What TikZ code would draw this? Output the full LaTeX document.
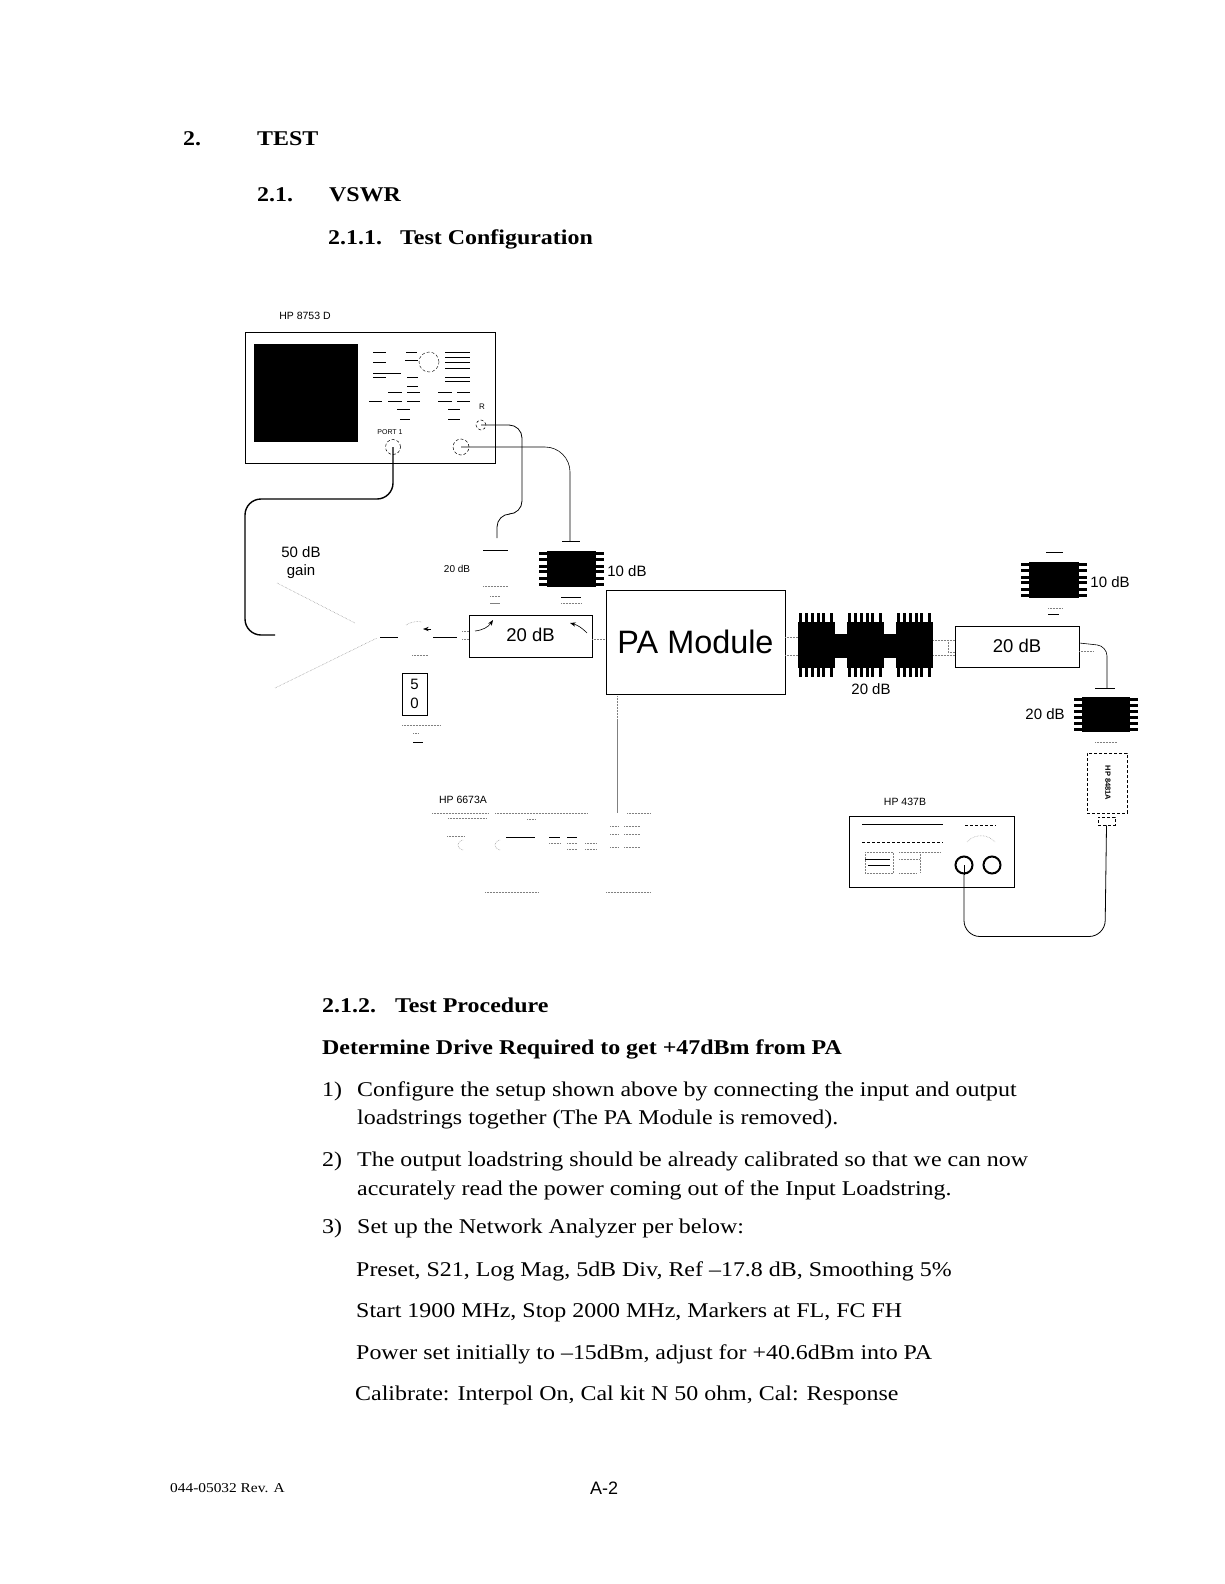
\documentclass[tikz,border=0pt]{standalone}
\usepackage{fontspec}
\setmainfont[FakeStretch=1.14]{Liberation Serif}
\setsansfont{Liberation Sans}
\usetikzlibrary{arrows.meta,calc}
\newcommand{\fs}[1]{\fontsize{#1}{#1}\selectfont}
\newcommand{\sidepins}[1]{%
  \foreach \k in {.08,.25,.42,.58,.75,.92} {
    \draw[pin] ($(#1.north west)!\k!(#1.south west)$) -- ++(-8,0);
    \draw[pin] ($(#1.north east)!\k!(#1.south east)$) -- ++(8,0);
  }}
\newcommand{\toppins}[1]{%
  \foreach \k in {.06,.22,.38,.54,.7,.9} {
    \draw[pin] ($(#1.north west)!\k!(#1.north east)$) -- ++(0,-9);
    \draw[pin] ($(#1.south west)!\k!(#1.south east)$) -- ++(0,9);
  }}
\begin{document}
\begin{tikzpicture}[x=1pt,y=-1pt,
    title/.style={anchor=base west, inner sep=0pt, font=\fs{21}\bfseries},
    body/.style={anchor=base west, inner sep=0pt, font=\fs{21}},
    instr/.style={rectangle, draw, inner sep=0pt, line width=.8pt},
    label/.style={inner sep=0pt, font=\sffamily\fs{15}},
    tiny/.style={inner sep=0pt, font=\sffamily\fs{10.5}},
    chip/.style={rectangle, fill=black, inner sep=0pt},
    pin/.style={line width=3pt},
    port/.style={circle, draw, densely dashed, inner sep=0pt, line width=.5pt},
    cable/.style={line width=.8pt, rounded corners=16pt},
    faint/.style={densely dotted, line width=.5pt, gray},
    key/.style={line width=.7pt},
    arr/.style={-{Stealth}, line width=.6pt}]
  \useasboundingbox (0,0) rectangle (1224,1584);
  % page headings
  \node[title] (sec) at (183,146) {2.};
  \node[title] (sectest) at (257,146) {TEST};
  \node[title] (sub) at (257,201) {2.1.};
  \node[title] (subvswr) at (329,201) {VSWR};
  \node[title] (conf) at (328,244) {2.1.1.};
  \node[title] (conftext) at (400,244) {Test Configuration};
  % network analyzer
  \node[instr, minimum width=250, minimum height=131] (vna) at (370,397.5) {};
  \node[tiny] (vnaname) at (305,316) {HP 8753 D};
  \node[chip, minimum width=104, minimum height=98] (screen) at (306,393) {};
  \node[circle, draw, densely dashed, minimum size=20, inner sep=0pt] (knob) at (429,362) {};
  \foreach \xa/\xb/\yy in {373/386/352, 373/386/362, 373/401/373, 373/386/377,
      406/417/352, 405/418/360, 445/470/352, 445/470/357, 445/470/362, 445/470/368, 445/470/377, 445/470/381,
      407/418/377, 407/418/386, 388/402/392, 407/420/392, 438/452/392, 457/470/392,
      369/382/401, 388/402/401, 407/420/401, 438/452/401, 457/470/401,
      397/410/409, 400/410/419, 448/460/409, 448/460/419}
    \draw[key] (\xa,\yy) -- (\xb,\yy);
  \node[tiny, font=\sffamily\fs{7}] (portone) at (390,432) {PORT 1};
  \node[tiny, font=\sffamily\fs{8}] (portrname) at (482,407) {R};
  \node[port, minimum size=15] (pone) at (393,447) {};
  \node[port, minimum size=10] (pr) at (481,425) {};
  \node[port, minimum size=16] (pt) at (461,447) {};
  % amplifier and input loadstring
  \node[label] (gain) at (301,552) {50 dB};
  \node[label] (gaintwo) at (301,572) {gain};
  \coordinate (ampin) at (275,635);
  \coordinate (ampa) at (277,583);
  \coordinate (ampb) at (355,623);
  \coordinate (ampc) at (275,688);
  \coordinate (ampd) at (377,638);
  \coordinate (ampout) at (380,637);
  \coordinate (cplin) at (398,637);
  \coordinate (cplout) at (433,637);
  \draw[faint] (ampa) -- (ampb);
  \draw[faint] (ampc) -- (ampd);
  \draw[line width=.8pt] (ampout) -- (cplin);
  \draw[line width=.8pt] (cplout) -- (457,637);
  \draw[faint] (406,625) to[bend left=20] (422,622);
  \draw[faint] (412,655) -- (428,655);
  \draw[arr] (431,629) -- (423,629);
  \draw[cable, line width=1.4pt] (pone.center) -- (393,499) -- (245,499) -- (245,635) -- (ampin);
  \draw[cable, rounded corners=13pt] (pr.center) -- (522,425) -- (522,514) -- (497,514) -- (497,538);
  \coordinate (teea) at (570,541);
  \draw[cable, line width=.6pt, rounded corners=25pt] (pt.center) -- (570,447) -- (teea);
  \draw (562,541) -- (580,541);
  % input attenuators
  \node[tiny, font=\sffamily\fs{10}] (attname) at (457,569) {20 dB};
  \draw[key] (483,550) -- (508,550);
  \draw[faint] (483,586) -- (508,586);
  \draw[faint] (490,596) -- (500,596);
  \draw[key, gray] (490,603) -- (500,603);
  \node[chip, minimum width=49, minimum height=36] (attten) at (571.5,569) {};
  \sidepins{attten}
  \node[label] (atttenname) at (627,571) {10 dB};
  \draw[key] (561,597) -- (581,597);
  \draw[faint] (561,603) -- (581,603);
  \node[instr, minimum width=123, minimum height=42, label, draw] (cpl) at (530.5,636) {\fs{18.5}\raisebox{2pt}{20 dB}};
  \draw[faint] (462,631) -- (469,631);
  \draw[faint] (462,639) -- (469,639);
  \draw[arr] (475,631) to[bend right=25] (493,620);
  \draw[arr] (587,633) to[bend right=15] (570,623);
  \node[instr, minimum width=25, minimum height=42, align=center, label] (load) at (414.5,694) {5\\[4pt]0};
  \draw[faint] (402,725) -- (440,725);
  \draw[faint] (413,733) -- (418,733);
  \draw[key] (413,742) -- (423,742);
  % PA
  \node[instr, minimum width=179, minimum height=104, font=\sffamily\fs{32.4}] (pa) at (695.5,642) {\raisebox{-2pt}{PA Module}};
  \draw[faint] (cpl.east |- 0,639) -- (pa.west |- 0,639);
  % power supply
  \node[tiny] (psname) at (463,800) {HP 6673A};
  \coordinate (psu) at (617,813);
  \draw[faint] (617,696) -- (617,720);
  \draw[line width=.5pt, gray] (617,720) -- (psu);
  \foreach \xa/\xb in {432/488, 495/588, 627/651}
    \draw[faint] (\xa,813) -- (\xb,813);
  \foreach \xa/\xb in {485/538, 606/651}
    \draw[faint] (\xa,892) -- (\xb,892);
  \foreach \xa/\xb/\yy in {448/487/818, 527/535/819, 447/465/836, 549/560/843, 567/577/843, 585/597/843, 567/577/849, 585/597/849, 610/618/826, 624/640/826, 610/618/834, 624/640/834, 610/618/847, 624/640/847}
    \draw[faint] (\xa,\yy) -- (\xb,\yy);
  \draw[key] (506,837) -- (535,837);
  \draw[key] (549,837) -- (560,837);
  \draw[key] (567,837) -- (577,837);
  \draw[faint] (463,850) arc (90:270:5);
  \draw[faint] (500,850) arc (90:270:5);
  % output loadstring
  \node[chip, minimum width=37, minimum height=46] (loada) at (816.5,645) {};
  \node[chip, minimum width=37, minimum height=46] (loadb) at (865.5,645) {};
  \node[chip, minimum width=37, minimum height=46] (loadc) at (914.5,645) {};
  \node[chip, minimum width=14, minimum height=24] (linka) at (841,646) {};
  \node[chip, minimum width=14, minimum height=24] (linkb) at (890,646) {};
  \toppins{loada}
  \toppins{loadb}
  \toppins{loadc}
  \node[label] (loadname) at (871,689) {20 dB};
  \draw[faint] (pa.east |- 0,637) -- (loada.west |- 0,637);
  \draw[faint] (pa.east |- 0,655) -- (loada.west |- 0,655);
  \node[instr, minimum width=124, minimum height=41, label, draw] (outatt) at (1017,646.5) {\fs{18.5}\raisebox{1pt}{20 dB}};
  \draw[faint] (loadc.east |- 0,640) -- (outatt.west |- 0,640);
  \draw[faint] (loadc.east |- 0,655) -- (outatt.west |- 0,655);
  \draw[faint] (948,640) -- (948,652) -- (955,652);
  \coordinate (teeb) at (1107,688);
  \draw[cable, line width=.6pt, rounded corners=10pt] (outatt.east |- 0,643) -- (1107,646) -- (teeb);
  \draw[faint] (outatt.east |- 0,651) -- (1093,651);
  \draw[key] (1095,688) -- (1115,688);
  \node[chip, minimum width=50, minimum height=36] (cpa) at (1054,580) {};
  \sidepins{cpa}
  \node[label] (cpaname) at (1110,582) {10 dB};
  \draw[key] (1046,552) -- (1063,552);
  \draw[faint] (1048,608) -- (1063,608);
  \draw[key] (1048,614) -- (1059,614);
  \node[chip, minimum width=48, minimum height=35] (cpb) at (1106,714.5) {};
  \sidepins{cpb}
  \node[label] (cpbname) at (1045,714) {20 dB};
  \draw[faint] (1095,742) -- (1117,742);
  % sensor and power meter
  \node[draw, densely dashed, line width=.5pt, minimum width=40, minimum height=60, inner sep=0pt] (sensor) at (1107,783) {};
  \node[rotate=-90, inner sep=0pt, font=\sffamily\bfseries\fs{7.5}] (sensorname) at (1108,783) {HP 8481A};
  \node[draw, densely dashed, line width=.5pt, minimum width=17, minimum height=8, inner sep=0pt] (sensorcon) at (1106.5,821) {};
  \node[tiny] (metername) at (905,802) {HP 437B};
  \node[instr, minimum width=165, minimum height=71] (meter) at (931.5,851.5) {};
  \node[circle, draw, line width=2pt, minimum size=17, inner sep=0pt] (ina) at (964,865) {};
  \node[circle, draw, line width=2pt, minimum size=17, inner sep=0pt] (inb) at (992,865) {};
  \draw[cable] (sensorcon.south) -- (1105,936.5) -- (964,936.5) -- (ina.south);
  \draw[line width=.8pt] (ina.center) -- (ina.south);
  \draw[key] (862,824) -- (943,824);
  \draw[key, densely dashed] (862,842) -- (943,842);
  \draw[key, densely dashed] (965,825) -- (996,825);
  \draw[faint] (967,842) to[bend left=50] (995,842);
  \draw[faint] (865,852) rectangle (893,873);
  \draw[key] (865,859) -- (890,859);
  \draw[key] (868,865) -- (890,865);
  \draw[faint] (899,852) -- (940,852);
  \draw[faint] (899,859) -- (920,859);
  \draw[faint] (920,852) -- (920,873);
  \draw[faint] (899,873) -- (917,873);
  % procedure
  \node[title] (proc) at (322,1012) {2.1.2.};
  \node[title] (proctext) at (395,1012) {Test Procedure};
  \node[title] (drive) at (322,1054) {Determine Drive Required to get +47dBm from PA};
  \node[body] (one) at (322,1096) {1)};
  \node[body] (onea) at (357,1096) {Configure the setup shown above by connecting the input and output};
  \node[body] (oneb) at (357,1124) {loadstrings together (The PA Module is removed).};
  \node[body] (two) at (322,1166) {2)};
  \node[body] (twoa) at (357,1166) {The output loadstring should be already calibrated so that we can now};
  \node[body] (twob) at (357,1195) {accurately read the power coming out of the Input Loadstring.};
  \node[body] (three) at (322,1233) {3)};
  \node[body] (threea) at (357,1233) {Set up the Network Analyzer per below:};
  \node[body] (seta) at (356,1276) {Preset, S21, Log Mag, 5dB Div, Ref --17.8 dB, Smoothing 5\%};
  \node[body] (setb) at (356,1317) {Start 1900 MHz, Stop 2000 MHz, Markers at FL, FC FH};
  \node[body] (setc) at (356,1359) {Power set initially to --15dBm, adjust for +40.6dBm into PA};
  \node[body] (setd) at (355,1400) {Calibrate: Interpol On, Cal kit N 50 ohm, Cal: Response};
  \node[anchor=base west, inner sep=0pt, font=\fs{13.5}] (foot) at (170,1492) {044-05032  Rev. A};
  \node[anchor=base west, inner sep=0pt, font=\sffamily\fs{18}] (page) at (590,1494) {A-2};
\end{tikzpicture}
\end{document}
